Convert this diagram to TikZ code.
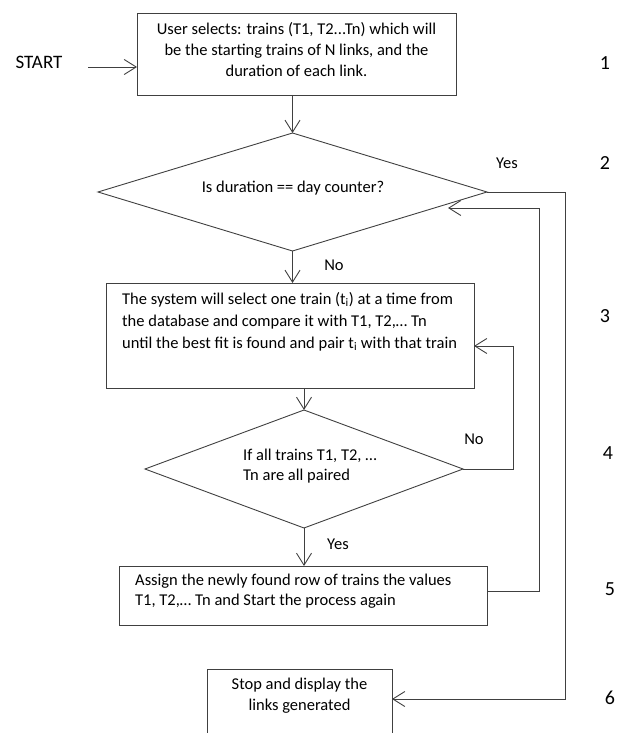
\documentclass[tikz,border=0pt]{standalone}
\usepackage{fontspec}
\setmainfont{Carlito}
\usetikzlibrary{arrows.meta,shapes.geometric,calc}
\begin{document}
\begin{tikzpicture}[x=1pt,y=-1pt,
  ln/.style={draw=black!75, line width=0.9pt},
  arr/.style={ln, -{Straight Barb[length=12pt,width=15pt,line width=0.9pt]}},
  box/.style={ln, rectangle, inner sep=0pt, outer sep=0pt, anchor=north west},
  dia/.style={ln, diamond, inner sep=0pt, outer sep=0pt},
  txt/.style={font=\fontsize{16.5}{21}\selectfont, inner sep=0pt, text=black},
  num/.style={font=\fontsize{20}{24}\selectfont, inner sep=0pt, text=black},
  lab/.style={font=\fontsize{16.5}{20}\selectfont, inner sep=0pt, text=black},
]
\useasboundingbox (0,0) rectangle (632,733);
\clip (0,0) rectangle (632,733);

% shapes
\node[box, minimum width=319pt, minimum height=82pt] (b1) at (137,13) {};
\node[dia, minimum width=389pt, minimum height=118pt, aspect=3.3] (d1) at (292.5,192) {};
\node[box, minimum width=368pt, minimum height=105pt] (b3) at (106,283) {};
\node[dia, minimum width=318pt, minimum height=118pt, aspect=2.7] (d2) at (304,469) {};
\node[box, minimum width=368pt, minimum height=59pt] (b5) at (119,566) {};
\node[box, minimum width=185pt, minimum height=120pt] (b6) at (207,669) {};

% texts
\node[txt, font=\fontsize{19}{22}\selectfont] (start) at (39,62) {START};
\node[txt, align=center, anchor=north] (t1) at (296.5,22)
  {User selects: trains (T1, T2...Tn) which will\\be the starting trains of N links, and the\\duration of each link.};
\node[txt, anchor=base] (t2) at (293,192) {Is duration == day counter?};
\node[txt, align=left, anchor=north west, font=\fontsize{16.5}{22}\selectfont] (t3) at (122,292)
  {The system will select one train (t\textsubscript{i}) at a time from\\the database and compare it with T1, T2,… Tn\\until the best fit is found  and pair t\textsubscript{i} with that train};
\node[txt, align=left, anchor=north west, font=\fontsize{16.5}{20}\selectfont] (t4) at (243,449)
  {If all trains T1, T2, …\\Tn are all paired};
\node[txt, align=left, anchor=north west, font=\fontsize{16.5}{20}\selectfont] (t5) at (135,574)
  {Assign the newly found  row of trains the values\\T1, T2,… Tn and Start the process again};
\node[txt, align=center, anchor=north] (t6) at (299.5,678)
  {Stop and display the\\links generated};

% labels
\node[lab] (yes1) at (507,163) {Yes};
\node[lab] (no1) at (334,265) {No};
\node[lab] (no2) at (474,439) {No};
\node[lab] (yes2) at (338,544) {Yes};
\node[num] (n1) at (605,63) {1};
\node[num] (n2) at (605,163) {2};
\node[num] (n3) at (605,316) {3};
\node[num] (n4) at (608,453) {4};
\node[num] (n5) at (610,589) {5};
\node[num] (n6) at (610,698) {6};

% helper coordinates
\coordinate (sa) at (88,67);
\coordinate (ret) at (448,208);
\coordinate (r1) at (565,192);
\coordinate (r2) at (539,591);
\coordinate (r3) at (513,469);

% connectors
\draw[arr] (sa) -- (sa -| b1.west);
\draw[arr] (b1.south -| d1.north) -- (d1.north);
\draw[arr] (d1.south) -- (d1.south |- b3.north);
\draw[arr] (b3.south -| d2.north) -- (d2.north);
\draw[arr] (d2.south) -- (d2.south |- b5.north);
\draw[arr] (d1.east) -- (r1) |- ($(b6.north east)+(0,30)$);
\draw[arr] (r2 -| b5.east) -- (r2) |- (ret);
\draw[arr] (d2.east) -- (r3) |- ($(b3.north east)+(0,63)$);
\end{tikzpicture}
\end{document}
